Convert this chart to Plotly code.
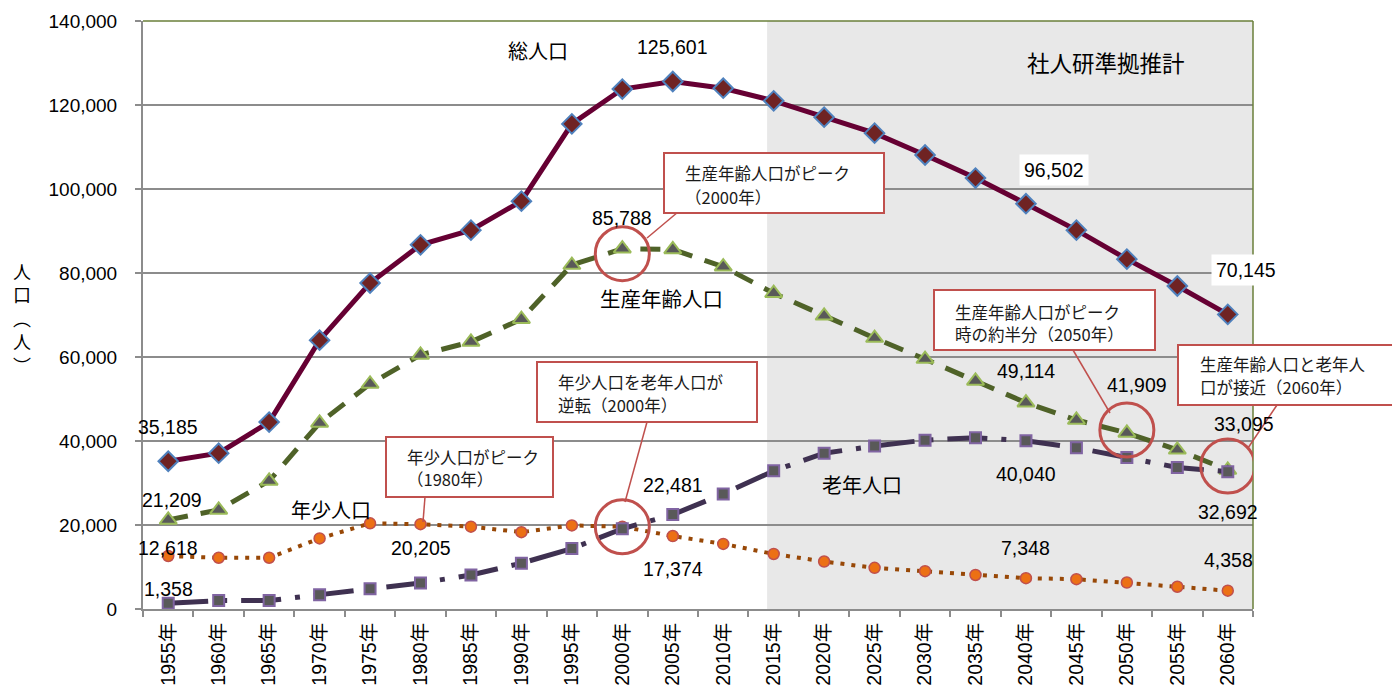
import plotly.graph_objects as go

years = [1955, 1960, 1965, 1970, 1975, 1980, 1985, 1990, 1995, 2000, 2005,
         2010, 2015, 2020, 2025, 2030, 2035, 2040, 2045, 2050, 2055, 2060]
cats = [f"{y}年" for y in years]

total = [35185, 37100, 44500, 64000, 77600, 86700, 90200, 97100, 115500, 123800, 125601,
         124000, 121000, 117100, 113300, 108100, 102600, 96502, 90200, 83300, 76900, 70145]
working = [21209, 23600, 30500, 44300, 53600, 60500, 63600, 69000, 81900, 85788, 85600,
           81500, 75200, 69800, 64500, 59500, 54300, 49114, 45000, 41909, 37900, 33095]
elderly = [1358, 2000, 2000, 3400, 4800, 6200, 8100, 10900, 14400, 19100, 22481,
           27400, 32900, 37100, 38800, 40200, 40800, 40040, 38400, 36100, 33700, 32692]
young = [12618, 12200, 12200, 16800, 20400, 20205, 19600, 18300, 19900, 19600, 17374,
         15500, 13100, 11300, 9800, 9000, 8100, 7348, 7100, 6300, 5300, 4358]

y_ticks = [0, 20000, 40000, 60000, 80000, 100000, 120000, 140000]

FONT = "Liberation Sans, Arial, Noto Sans CJK JP"
CJK = "Noto Sans CJK JP, Liberation Sans"
W, H = 1392, 693
L, R, T, B = 143, 1253, 21, 609


def px(X):
    return (X - L) / (R - L)


def py(Y):
    return (B - Y) / (B - T)


fig = go.Figure()

fig.add_trace(go.Scatter(
    x=cats, y=young, mode="lines+markers", name="年少人口",
    line=dict(color="#984807", width=4, dash="4px,7px"),
    marker=dict(symbol="circle", size=11, color="#ec7014",
                line=dict(color="#c0504d", width=1.5))))
fig.add_trace(go.Scatter(
    x=cats, y=working, mode="lines+markers", name="生産年齢人口",
    line=dict(color="#4f6228", width=5, dash="20px,13px"),
    marker=dict(symbol="triangle-up", size=15, color="#595959",
                line=dict(color="#9bbb59", width=2))))
fig.add_trace(go.Scatter(
    x=cats, y=elderly, mode="lines+markers", name="老年人口",
    line=dict(color="#3f3151", width=5, dash="40px,14px,5px,14px"),
    marker=dict(symbol="square", size=11, color="#595959",
                line=dict(color="#8064a2", width=2))))
fig.add_trace(go.Scatter(
    x=cats, y=total, mode="lines+markers", name="総人口",
    line=dict(color="#660033", width=5),
    marker=dict(symbol="diamond", size=15, color="#6f2323",
                line=dict(color="#4f81bd", width=2))))

shapes = []
shapes.append(dict(type="rect", xref="x", yref="y", x0=11.87, x1=21.5,
                   y0=0, y1=140000, fillcolor="#e8e8e8", line=dict(width=0),
                   layer="below"))
shapes.append(dict(type="line", xref="paper", yref="paper", x0=0, x1=1, y0=1, y1=1,
                   line=dict(color="#6a7f3a", width=1.5)))
shapes.append(dict(type="line", xref="paper", yref="paper", x0=1, x1=1, y0=0, y1=1,
                   line=dict(color="#6a7f3a", width=1.5)))

RED = "#c0504d"


def circle(idx, yval, dy):
    return dict(type="circle", xref="x", yref="y", xsizemode="pixel", ysizemode="pixel",
                xanchor=idx, yanchor=yval, x0=-27, x1=27, y0=-27 + dy, y1=27 + dy,
                line=dict(color=RED, width=3), fillcolor="rgba(0,0,0,0)", layer="above")


i2000 = years.index(2000)
i2050 = years.index(2050)
i2060 = years.index(2060)
shapes.append(circle(i2000, working[i2000], -5))
shapes.append(circle(i2050, working[i2050], 3))
shapes.append(circle(i2060, working[i2060], 4))
shapes.append(circle(i2000, elderly[i2000], 2))

boxes = [
    ((664, 153, 884, 213), (683, ["生産年齢人口がピーク", "（2000年）"], [173, 197]), ((678, 212), (647, 238))),
    ((934, 290, 1155, 350), (953, ["生産年齢人口がピーク", "時の約半分（2050年）"], [312, 334]), ((1073, 350), (1110, 413))),
    ((1178, 345, 1402, 405), (1198, ["生産年齢人口と老年人", "口が接近（2060年）"], [364, 387]), ((1277, 405), (1248, 448))),
    ((537, 362, 757, 422), (556, ["年少人口を老年人口が", "逆転（2000年）"], [382, 405]), ((647, 422), (625, 502))),
    ((386, 437, 553, 497), (405, ["年少人口がピーク", "（1980年）"], [457, 479]), ((425, 497), (423, 522))),
]

annotations = []
for (x0, y0, x1, y1), (tx, lines, tys), ((lx0, ly0), (lx1, ly1)) in boxes:
    shapes.append(dict(type="line", xref="paper", yref="paper",
                       x0=px(lx0), y0=py(ly0), x1=px(lx1), y1=py(ly1),
                       line=dict(color=RED, width=1.5), layer="above"))
    shapes.append(dict(type="rect", xref="paper", yref="paper",
                       x0=px(x0), y0=py(y0), x1=px(x1), y1=py(y1),
                       fillcolor="white", line=dict(color=RED, width=2), layer="above"))
    for t, ty in zip(lines, tys):
        annotations.append(dict(xref="paper", yref="paper", x=px(tx), y=py(ty),
                                xanchor="left", yanchor="middle", showarrow=False,
                                text=t, font=dict(family=CJK, size=16.5, color="#1a1a1a")))


def vlabel(series, year, dy, dx=0, bg=None):
    i = years.index(year)
    d = dict(x=cats[i], y=series[i], xref="x", yref="y", showarrow=False,
             text=f"{series[i]:,}", yshift=dy, xshift=dx,
             font=dict(family=FONT, size=19.5, color="black"))
    if bg:
        d["bgcolor"] = bg
        d["borderpad"] = 4
    return d


annotations += [
    vlabel(total, 2005, 34),
    vlabel(total, 2040, 34, 28, "white"),
    vlabel(total, 2060, 44, 18, "white"),
    vlabel(total, 1955, 34),
    vlabel(working, 2000, 31),
    vlabel(working, 1955, 20, 4),
    vlabel(working, 2040, 32),
    vlabel(working, 2050, 48, 10),
    vlabel(working, 2060, 46, 16),
    vlabel(young, 1955, 8),
    vlabel(young, 1980, -24),
    vlabel(young, 2005, -33),
    vlabel(young, 2040, 30),
    vlabel(young, 2060, 31, 1),
    vlabel(elderly, 1955, 14),
    vlabel(elderly, 2005, 30),
    vlabel(elderly, 2040, -33),
    vlabel(elderly, 2060, -40),
]

for text, X, Y, size in [("総人口", 538, 50, 20), ("生産年齢人口", 661, 298, 20.5),
                         ("年少人口", 331, 509, 20), ("老年人口", 862, 484, 20),
                         ("社人研準拠推計", 1106, 62, 22.5)]:
    annotations.append(dict(xref="paper", yref="paper", x=px(X), y=py(Y),
                            xanchor="center", yanchor="middle", showarrow=False,
                            text=text, font=dict(family=CJK, size=size, color="black")))

annotations.append(dict(xref="paper", yref="paper", x=px(22), y=py(318),
                        xanchor="center", yanchor="middle", showarrow=False,
                        text="人<br>口<br>︵<br>人<br>︶",
                        font=dict(family=CJK, size=18, color="black")))

fig.update_layout(
    width=W, height=H,
    margin=dict(l=L, r=W - R, t=T, b=H - B, autoexpand=False),
    paper_bgcolor="white", plot_bgcolor="white",
    showlegend=False,
    shapes=shapes, annotations=annotations,
    xaxis=dict(type="category", range=[-0.5, 21.5], tickangle=-90, automargin=False,
               tickfont=dict(family=FONT, size=19.5, color="black"),
               ticks="outside", tickson="boundaries", ticklen=6, tickcolor="#8c8c8c",
               tickwidth=1.5, showline=True, linecolor="#8c8c8c", linewidth=2,
               showgrid=False, ticklabelstandoff=4),
    yaxis=dict(range=[0, 140000], tickvals=y_ticks, tickformat=",", automargin=False,
               tickfont=dict(family=FONT, size=19, color="black"),
               ticks="outside", ticklen=6, tickcolor="#8c8c8c", tickwidth=1.5,
               showline=True, linecolor="#8c8c8c", linewidth=2,
               showgrid=True, gridcolor="#8c8c8c", gridwidth=1.5,
               zeroline=False, ticklabelstandoff=14),
)

fig.write_html("out.html", config={"displayModeBar": False},
               post_script="document.body.style.margin='0';document.body.style.overflow='hidden';")
